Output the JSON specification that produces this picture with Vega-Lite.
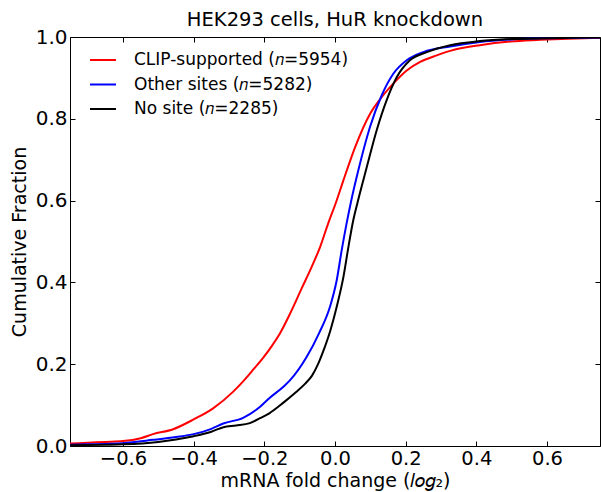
{
  "$schema": "https://vega.github.io/schema/vega-lite/v6.json",
  "width": 530,
  "height": 409,
  "autosize": {"type": "none"},
  "padding": {"left": 70, "top": 37, "right": 1, "bottom": 46},
  "background": "white",
  "title": {"text": "HEK293 cells, HuR knockdown", "fontSize": 19.5, "font": "DejaVu Sans", "fontWeight": "normal", "color": "#000", "anchor": "middle", "offset": -3},
  "config": {
    "font": "DejaVu Sans",
    "view": {"stroke": "#000", "strokeWidth": 1},
    "axis": {"labelFont": "DejaVu Sans", "titleFont": "DejaVu Sans", "labelColor": "#000", "titleColor": "#000", "tickColor": "#000", "grid": false, "domain": false, "titleFontWeight": "normal"}
  },
  "data": {"values": [
    {"series": "CLIP-supported (𝑛=5954)", "v": -0.75, "F": 0.006},
    {"series": "CLIP-supported (𝑛=5954)", "v": -0.70, "F": 0.008},
    {"series": "CLIP-supported (𝑛=5954)", "v": -0.65, "F": 0.010},
    {"series": "CLIP-supported (𝑛=5954)", "v": -0.60, "F": 0.012},
    {"series": "CLIP-supported (𝑛=5954)", "v": -0.55, "F": 0.019},
    {"series": "CLIP-supported (𝑛=5954)", "v": -0.515, "F": 0.029},
    {"series": "CLIP-supported (𝑛=5954)", "v": -0.458, "F": 0.041},
    {"series": "CLIP-supported (𝑛=5954)", "v": -0.40, "F": 0.065},
    {"series": "CLIP-supported (𝑛=5954)", "v": -0.345, "F": 0.092},
    {"series": "CLIP-supported (𝑛=5954)", "v": -0.288, "F": 0.133},
    {"series": "CLIP-supported (𝑛=5954)", "v": -0.26, "F": 0.158},
    {"series": "CLIP-supported (𝑛=5954)", "v": -0.235, "F": 0.183},
    {"series": "CLIP-supported (𝑛=5954)", "v": -0.203, "F": 0.216},
    {"series": "CLIP-supported (𝑛=5954)", "v": -0.18, "F": 0.243},
    {"series": "CLIP-supported (𝑛=5954)", "v": -0.156, "F": 0.275},
    {"series": "CLIP-supported (𝑛=5954)", "v": -0.127, "F": 0.324},
    {"series": "CLIP-supported (𝑛=5954)", "v": -0.094, "F": 0.386},
    {"series": "CLIP-supported (𝑛=5954)", "v": -0.066, "F": 0.438},
    {"series": "CLIP-supported (𝑛=5954)", "v": -0.042, "F": 0.487},
    {"series": "CLIP-supported (𝑛=5954)", "v": -0.019, "F": 0.545},
    {"series": "CLIP-supported (𝑛=5954)", "v": 0.003, "F": 0.596},
    {"series": "CLIP-supported (𝑛=5954)", "v": 0.024, "F": 0.65},
    {"series": "CLIP-supported (𝑛=5954)", "v": 0.057, "F": 0.731},
    {"series": "CLIP-supported (𝑛=5954)", "v": 0.099, "F": 0.812},
    {"series": "CLIP-supported (𝑛=5954)", "v": 0.132, "F": 0.853},
    {"series": "CLIP-supported (𝑛=5954)", "v": 0.165, "F": 0.886},
    {"series": "CLIP-supported (𝑛=5954)", "v": 0.203, "F": 0.918},
    {"series": "CLIP-supported (𝑛=5954)", "v": 0.241, "F": 0.939},
    {"series": "CLIP-supported (𝑛=5954)", "v": 0.288, "F": 0.955},
    {"series": "CLIP-supported (𝑛=5954)", "v": 0.326, "F": 0.966},
    {"series": "CLIP-supported (𝑛=5954)", "v": 0.41, "F": 0.98},
    {"series": "CLIP-supported (𝑛=5954)", "v": 0.496, "F": 0.989},
    {"series": "CLIP-supported (𝑛=5954)", "v": 0.58, "F": 0.993},
    {"series": "CLIP-supported (𝑛=5954)", "v": 0.66, "F": 0.996},
    {"series": "CLIP-supported (𝑛=5954)", "v": 0.75, "F": 0.998},
    {"series": "Other sites (𝑛=5282)", "v": -0.75, "F": 0.003},
    {"series": "Other sites (𝑛=5282)", "v": -0.70, "F": 0.004},
    {"series": "Other sites (𝑛=5282)", "v": -0.60, "F": 0.007},
    {"series": "Other sites (𝑛=5282)", "v": -0.515, "F": 0.015},
    {"series": "Other sites (𝑛=5282)", "v": -0.45, "F": 0.022},
    {"series": "Other sites (𝑛=5282)", "v": -0.40, "F": 0.029},
    {"series": "Other sites (𝑛=5282)", "v": -0.35, "F": 0.042},
    {"series": "Other sites (𝑛=5282)", "v": -0.316, "F": 0.055},
    {"series": "Other sites (𝑛=5282)", "v": -0.26, "F": 0.069},
    {"series": "Other sites (𝑛=5282)", "v": -0.212, "F": 0.096},
    {"series": "Other sites (𝑛=5282)", "v": -0.186, "F": 0.117},
    {"series": "Other sites (𝑛=5282)", "v": -0.146, "F": 0.145},
    {"series": "Other sites (𝑛=5282)", "v": -0.127, "F": 0.161},
    {"series": "Other sites (𝑛=5282)", "v": -0.08, "F": 0.218},
    {"series": "Other sites (𝑛=5282)", "v": -0.045, "F": 0.276},
    {"series": "Other sites (𝑛=5282)", "v": -0.014, "F": 0.341},
    {"series": "Other sites (𝑛=5282)", "v": 0.005, "F": 0.406},
    {"series": "Other sites (𝑛=5282)", "v": 0.019, "F": 0.479},
    {"series": "Other sites (𝑛=5282)", "v": 0.033, "F": 0.545},
    {"series": "Other sites (𝑛=5282)", "v": 0.045, "F": 0.596},
    {"series": "Other sites (𝑛=5282)", "v": 0.066, "F": 0.674},
    {"series": "Other sites (𝑛=5282)", "v": 0.099, "F": 0.78},
    {"series": "Other sites (𝑛=5282)", "v": 0.132, "F": 0.857},
    {"series": "Other sites (𝑛=5282)", "v": 0.165, "F": 0.91},
    {"series": "Other sites (𝑛=5282)", "v": 0.203, "F": 0.943},
    {"series": "Other sites (𝑛=5282)", "v": 0.25, "F": 0.963},
    {"series": "Other sites (𝑛=5282)", "v": 0.326, "F": 0.977},
    {"series": "Other sites (𝑛=5282)", "v": 0.41, "F": 0.988},
    {"series": "Other sites (𝑛=5282)", "v": 0.50, "F": 0.994},
    {"series": "Other sites (𝑛=5282)", "v": 0.60, "F": 0.997},
    {"series": "Other sites (𝑛=5282)", "v": 0.75, "F": 0.999},
    {"series": "No site (𝑛=2285)", "v": -0.75, "F": 0.002},
    {"series": "No site (𝑛=2285)", "v": -0.65, "F": 0.003},
    {"series": "No site (𝑛=2285)", "v": -0.60, "F": 0.004},
    {"series": "No site (𝑛=2285)", "v": -0.50, "F": 0.010},
    {"series": "No site (𝑛=2285)", "v": -0.45, "F": 0.016},
    {"series": "No site (𝑛=2285)", "v": -0.40, "F": 0.024},
    {"series": "No site (𝑛=2285)", "v": -0.35, "F": 0.035},
    {"series": "No site (𝑛=2285)", "v": -0.316, "F": 0.046},
    {"series": "No site (𝑛=2285)", "v": -0.28, "F": 0.05},
    {"series": "No site (𝑛=2285)", "v": -0.241, "F": 0.056},
    {"series": "No site (𝑛=2285)", "v": -0.212, "F": 0.068},
    {"series": "No site (𝑛=2285)", "v": -0.186, "F": 0.08},
    {"series": "No site (𝑛=2285)", "v": -0.146, "F": 0.106},
    {"series": "No site (𝑛=2285)", "v": -0.11, "F": 0.132},
    {"series": "No site (𝑛=2285)", "v": -0.085, "F": 0.152},
    {"series": "No site (𝑛=2285)", "v": -0.065, "F": 0.172},
    {"series": "No site (𝑛=2285)", "v": -0.048, "F": 0.200},
    {"series": "No site (𝑛=2285)", "v": -0.034, "F": 0.230},
    {"series": "No site (𝑛=2285)", "v": -0.014, "F": 0.280},
    {"series": "No site (𝑛=2285)", "v": 0.005, "F": 0.341},
    {"series": "No site (𝑛=2285)", "v": 0.024, "F": 0.414},
    {"series": "No site (𝑛=2285)", "v": 0.038, "F": 0.487},
    {"series": "No site (𝑛=2285)", "v": 0.052, "F": 0.553},
    {"series": "No site (𝑛=2285)", "v": 0.064, "F": 0.596},
    {"series": "No site (𝑛=2285)", "v": 0.09, "F": 0.682},
    {"series": "No site (𝑛=2285)", "v": 0.118, "F": 0.772},
    {"series": "No site (𝑛=2285)", "v": 0.146, "F": 0.845},
    {"series": "No site (𝑛=2285)", "v": 0.175, "F": 0.902},
    {"series": "No site (𝑛=2285)", "v": 0.212, "F": 0.943},
    {"series": "No site (𝑛=2285)", "v": 0.26, "F": 0.963},
    {"series": "No site (𝑛=2285)", "v": 0.326, "F": 0.98},
    {"series": "No site (𝑛=2285)", "v": 0.41, "F": 0.99},
    {"series": "No site (𝑛=2285)", "v": 0.50, "F": 0.995},
    {"series": "No site (𝑛=2285)", "v": 0.60, "F": 0.997},
    {"series": "No site (𝑛=2285)", "v": 0.75, "F": 0.999}
  ]},
  "layer": [
    {
      "mark": {"type": "line", "strokeWidth": 2, "clip": true, "interpolate": "monotone"},
      "encoding": {
        "x": {"field": "v", "type": "quantitative", "scale": {"domain": [-0.75, 0.75], "nice": false, "zero": false},
          "axis": {"orient": "bottom", "values": [-0.6, -0.4, -0.2, 0, 0.2, 0.4, 0.6], "format": ".1f", "tickSize": -5, "labelPadding": 8, "labelFontSize": 19.5, "labelFlush": false, "title": "mRNA fold change (𝑙𝑜𝑔₂)", "titleFontSize": 19, "titlePadding": 4}},
        "y": {"field": "F", "type": "quantitative", "scale": {"domain": [0, 1], "nice": false},
          "axis": {"orient": "left", "values": [0, 0.2, 0.4, 0.6, 0.8, 1.0], "format": ".1f", "tickSize": -5, "labelPadding": 8, "labelFontSize": 20, "labelFlush": false, "title": "Cumulative Fraction", "titleFontSize": 19, "titlePadding": 6}},
        "color": {"field": "series", "type": "nominal",
          "scale": {"domain": ["CLIP-supported (𝑛=5954)", "Other sites (𝑛=5282)", "No site (𝑛=2285)"], "range": ["#ff0000", "#0000ff", "#000000"]},
          "legend": {"orient": "none", "legendX": 19, "legendY": 9, "title": null, "symbolType": "stroke", "symbolSize": 676, "symbolStrokeWidth": 2, "labelFontSize": 17, "labelFont": "DejaVu Sans", "labelColor": "#000", "labelOffset": 17, "rowPadding": 2.5, "padding": 0, "labelLimit": 400}}
      }
    },
    {
      "mark": {"type": "line", "opacity": 0},
      "encoding": {
        "x": {"field": "v", "type": "quantitative", "scale": {"domain": [-0.75, 0.75], "nice": false, "zero": false},
          "axis": {"orient": "top", "values": [-0.6, -0.4, -0.2, 0, 0.2, 0.4, 0.6], "tickSize": -5, "labels": false, "title": null}},
        "y": {"field": "F", "type": "quantitative", "scale": {"domain": [0, 1], "nice": false},
          "axis": {"orient": "right", "values": [0, 0.2, 0.4, 0.6, 0.8, 1.0], "tickSize": -5, "labels": false, "title": null}}
      }
    }
  ],
  "resolve": {"axis": {"x": "independent", "y": "independent"}}
}
